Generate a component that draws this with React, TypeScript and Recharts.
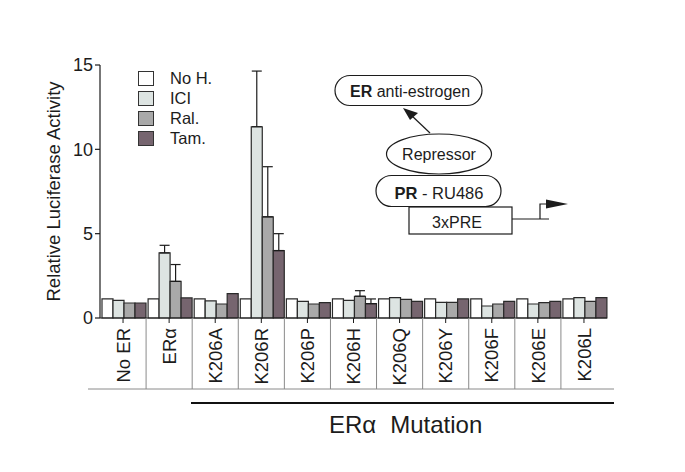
import React from 'react';
import { BarChart, Bar, XAxis, YAxis, ErrorBar, Legend } from 'recharts';

const categories = ['No ER', 'ERα', 'K206A', 'K206R', 'K206P', 'K206H', 'K206Q', 'K206Y', 'K206F', 'K206E', 'K206L'];
const seriesNames = ['No H.', 'ICI', 'Ral.', 'Tam.'];
const noHormone = [1.13, 1.13, 1.13, 1.13, 1.13, 1.13, 1.13, 1.13, 1.13, 1.13, 1.13];
const ici = [1.05, 3.86, 1.01, 11.34, 0.99, 1.05, 1.21, 0.93, 0.71, 0.83, 1.21];
const ral = [0.89, 2.17, 0.83, 6.0, 0.83, 1.29, 1.11, 0.93, 0.83, 0.91, 0.99];
const tam = [0.89, 1.19, 1.44, 4.0, 0.91, 0.85, 0.99, 1.13, 0.99, 0.99, 1.21];
// upper error only (value above bar top)
const iciErr = [null, 0.45, null, 3.3, null, null, null, null, null, null, null];
const ralErr = [null, 1.0, null, 2.97, null, 0.33, null, null, null, null, null];
const tamErr = [null, null, null, 1.0, null, 0.28, null, null, null, null, null];
const yTicks = [0, 5, 10, 15];

const data = categories.map((c, i) => ({
    name: c,
    noH: noHormone[i],
    ici: ici[i],
    ral: ral[i],
    tam: tam[i],
    iciErr: iciErr[i] == null ? null : [0, iciErr[i]],
    ralErr: ralErr[i] == null ? null : [0, ralErr[i]],
    tamErr: tamErr[i] == null ? null : [0, tamErr[i]],
}));

const W = 685;
const H = 472;
const PLOT_LEFT = 100;
const PLOT_RIGHT = 607;
const AXIS_Y = 318;
const BAND = (PLOT_RIGHT - PLOT_LEFT) / categories.length;
const FONT = '"Liberation Sans", Arial, Helvetica, sans-serif';
const INK = '#1c1c1c';

function CategoryTick(props: any) {
    const { x, payload, index } = props;
    return (
        <g>
            <line x1={x} x2={x} y1={AXIS_Y} y2={AXIS_Y + 5} stroke={INK} strokeWidth={1} />
            {index < categories.length - 1 && (
                <line x1={x + BAND / 2} x2={x + BAND / 2} y1={AXIS_Y} y2={389} stroke="#8a8a8a" strokeWidth={1} />
            )}
            <text
                transform={`translate(${x},${328}) rotate(-90)`}
                textAnchor="end"
                dy="0.36em"
                fontSize={18.5}
                fontFamily={FONT}
                fill={INK}
            >
                {payload.value}
            </text>
        </g>
    );
}

function LegendBox({ payload }: any) {
    const items = [...(payload || [])].sort(
        (a: any, b: any) => seriesNames.indexOf(a.value) - seriesNames.indexOf(b.value)
    );
    return (
        <div style={{ display: 'flex', flexDirection: 'column', gap: 6 }}>
            {items.map((p: any) => (
                <div key={p.value} style={{ display: 'flex', alignItems: 'center', height: 14 }}>
                    <span style={{ width: 14, height: 13, background: p.color, border: '1px solid #333', display: 'inline-block', flex: 'none' }} />
                    <span style={{ marginLeft: 16, fontSize: 16.5, lineHeight: '14px', fontFamily: FONT, color: INK, whiteSpace: 'nowrap' }}>{p.value}</span>
                </div>
            ))}
        </div>
    );
}

function Diagram() {
    const t = { fontFamily: FONT, fill: INK };
    return (
        <svg width={W} height={H} style={{ position: 'absolute', left: 0, top: 0, pointerEvents: 'none' }}>
            <line x1={88} x2={614} y1={389} y2={389} stroke="#8a8a8a" strokeWidth={1} />
            <line x1={191} x2={614} y1={403} y2={403} stroke="#111" strokeWidth={2} />
            <text x={329} y={433} fontSize={24} {...t}>
                ERα<tspan dx={14}>Mutation</tspan>
            </text>

            <rect x={335} y={75.5} width={147} height={30} rx={15} fill="#fff" stroke={INK} strokeWidth={1.2} />
            <text x={350} y={96.5} fontSize={16} {...t}>
                <tspan fontWeight={700}>ER</tspan> anti-estrogen
            </text>
            <line x1={430} y1={133} x2={411} y2={115} stroke={INK} strokeWidth={1.2} />
            <polygon points="403,108 418,113 410,120" fill={INK} />

            <ellipse cx={439} cy={154} rx={52.5} ry={20} fill="#fff" stroke={INK} strokeWidth={1.2} />
            <text x={439} y={159.5} textAnchor="middle" fontSize={16} {...t}>Repressor</text>

            <rect x={409} y={207} width={103} height={27} fill="#fff" stroke={INK} strokeWidth={1.2} />
            <text x={457} y={227.5} textAnchor="middle" fontSize={16} {...t}>3xPRE</text>
            <rect x={376} y={175.5} width={125} height={31} rx={15.5} fill="#fff" stroke={INK} strokeWidth={1.2} />
            <text x={439} y={198.5} textAnchor="middle" fontSize={16.5} {...t}>
                <tspan fontWeight={700}>PR</tspan> - RU486
            </text>

            <line x1={512} y1={219} x2={549} y2={219} stroke={INK} strokeWidth={1.2} />
            <polyline points="540,219 540,204 548,204" fill="none" stroke={INK} strokeWidth={1.2} />
            <polygon points="546,199.5 568,204 546,208.5" fill={INK} />
        </svg>
    );
}

export default function App() {
    const barStroke = { stroke: '#2a2a2a', strokeWidth: 1.2 };
    return (
        <div style={{ position: 'absolute', left: 0, top: 0, width: W, height: H, background: '#fff' }}>
            <BarChart
                width={W}
                height={H}
                data={data}
                margin={{ top: 65, right: W - PLOT_RIGHT, bottom: 54, left: 40 }}
                barCategoryGap={2}
                barGap={0}
            >
                <XAxis
                    dataKey="name"
                    interval={0}
                    height={100}
                    tickLine={false}
                    axisLine={{ stroke: INK, strokeWidth: 1.2 }}
                    tick={<CategoryTick />}
                />
                <YAxis
                    width={60}
                    domain={[0, 15]}
                    ticks={yTicks}
                    tickSize={5}
                    tickMargin={2}
                    axisLine={{ stroke: INK, strokeWidth: 1.2 }}
                    tickLine={{ stroke: INK, strokeWidth: 1.2 }}
                    tick={{ fontSize: 18, fontFamily: FONT, fill: INK }}
                    label={{
                        content: ({ viewBox }: any) => (
                            <text
                                transform={`translate(${viewBox.x + 13},${viewBox.y + viewBox.height / 2}) rotate(-90)`}
                                textAnchor="middle"
                                dy="0.36em"
                                fontSize={18.5}
                                fontFamily={FONT}
                                fill={INK}
                            >
                                Relative Luciferase Activity
                            </text>
                        ),
                    }}
                />
                <Legend
                    layout="horizontal"
                    verticalAlign="middle"
                    align="center"
                    content={<LegendBox />}
                    wrapperStyle={{ position: 'absolute', left: 138, top: 71, width: 120 }}
                />
                <Bar dataKey="noH" name="No H." fill="#ffffff" {...barStroke} isAnimationActive={false} />
                <Bar dataKey="ici" name="ICI" fill="#dde4e2" {...barStroke} isAnimationActive={false}>
                    <ErrorBar dataKey="iciErr" direction="y" width={5} stroke={INK} strokeWidth={1.2} />
                </Bar>
                <Bar dataKey="ral" name="Ral." fill="#a9a9a9" {...barStroke} isAnimationActive={false}>
                    <ErrorBar dataKey="ralErr" direction="y" width={5} stroke={INK} strokeWidth={1.2} />
                </Bar>
                <Bar dataKey="tam" name="Tam." fill="#76656f" {...barStroke} isAnimationActive={false}>
                    <ErrorBar dataKey="tamErr" direction="y" width={5} stroke={INK} strokeWidth={1.2} />
                </Bar>
            </BarChart>
            <Diagram />
        </div>
    );
}
